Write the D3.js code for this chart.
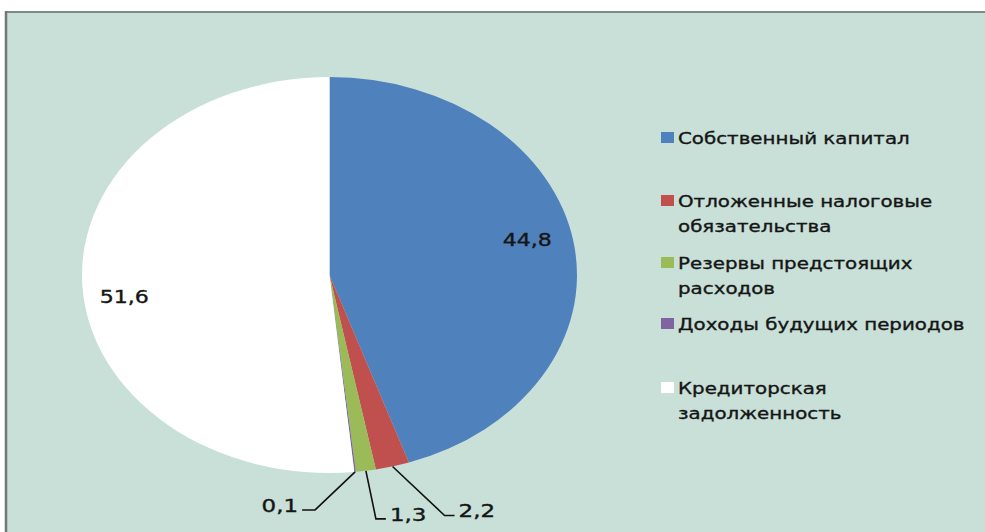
<!DOCTYPE html>
<html><head><meta charset="utf-8">
<script src="https://cdn.jsdelivr.net/npm/d3@7"></script>
<style>html,body{margin:0;padding:0;background:#fff;}svg{display:block;}</style>
</head><body>
<svg id="c" width="985" height="532"></svg>
<script>
const categories = ["Собственный капитал","Отложенные налоговые обязательства","Резервы предстоящих расходов","Доходы будущих периодов","Кредиторская задолженность"];
const legendLines = [["Собственный капитал"],["Отложенные налоговые","обязательства"],["Резервы предстоящих","расходов"],["Доходы будущих периодов"],["Кредиторская","задолженность"]];
const values = [44.8, 2.2, 1.3, 0.1, 51.6];
const valueLabels = ["44,8","2,2","1,3","0,1","51,6"];
const colors = ["#4F81BD","#C0504D","#9BBB59","#8064A2","#FFFFFF"];

const W = 985, H = 532;
const svg = d3.select("#c");
const SX = 1.25; // horizontal stretch of the picture
const FONT = "DejaVu Sans, Verdana, sans-serif";

// background panel
svg.append("rect").attr("x",6).attr("y",12).attr("width",W-6).attr("height",H-12).attr("fill","#C8E0D8");
svg.append("line").attr("x1",6).attr("x2",W).attr("y1",12).attr("y2",12).attr("stroke","#7E8A86").attr("stroke-width",2);
svg.append("line").attr("x1",6).attr("x2",6).attr("y1",11).attr("y2",H).attr("stroke","#6E7874").attr("stroke-width",2.5);

const cx = 329.5, cy = 275, R = 198;
const pie = d3.pie().sort(null).value(d => d)(values);
const arc = d3.arc().innerRadius(0).outerRadius(R);

const g = svg.append("g").attr("transform",`translate(${cx},${cy}) scale(${SX},1)`);
g.selectAll("path").data(pie).join("path").attr("d",arc).attr("fill",(d,i)=>colors[i]);

function stretchedText(parent, x, y, txt, size, anchor, sx){
  return parent.append("text")
    .attr("transform",`translate(${x},${y}) scale(${sx},1)`)
    .attr("text-anchor",anchor||"start")
    .attr("font-family",FONT).attr("font-size",size).attr("fill","#151515")
    .attr("stroke","#151515").attr("stroke-width",0.35)
    .text(txt);
}

// inside labels: [radius fraction, vertical nudge]
const inside = {0:[0.81,-9], 4:[0.83,14]};
Object.keys(inside).forEach(k=>{
  const i = +k, a = (pie[i].startAngle+pie[i].endAngle)/2;
  const [f,dy] = inside[i];
  const px = cx + SX*f*R*Math.sin(a), py = cy - f*R*Math.cos(a) + dy;
  stretchedText(svg, px, py+6, valueLabels[i], 17, "middle", 1.3);
});

// outside labels with leaders: [elbow dx, elbow dy, tail dx]
const leader = {1:[52,49,10], 2:[10,48,10], 3:[-40,38,-13]};
Object.keys(leader).forEach(k=>{
  const i = +k, a = (pie[i].startAngle+pie[i].endAngle)/2;
  const px = cx + SX*R*Math.sin(a), py = cy - R*Math.cos(a);
  const [ex,ey,tx] = leader[i];
  const p1 = [px+ex, py+ey], p2 = [px+ex+tx, py+ey];
  svg.append("polyline").attr("points",[[px,py],p1,p2].map(p=>p.join(",")).join(" "))
    .attr("fill","none").attr("stroke","#111").attr("stroke-width",1.6);
  const right = tx>0;
  stretchedText(svg, p2[0]+(right?4:-4), p2[1]+2, valueLabels[i], 17, right?"start":"end", 1.35);
});

// legend
const legY = [138, 201, 263, 324, 388];
const lg = svg.append("g");
legendLines.forEach((lines,i)=>{
  lg.append("rect").attr("x",661).attr("y",legY[i]-6).attr("width",13).attr("height",11).attr("fill",colors[i]);
  lines.forEach((ln,j)=>{
    stretchedText(lg, 678, legY[i]+6+j*25, ln, 16, "start", 1.24);
  });
});
</script>
</body></html>
